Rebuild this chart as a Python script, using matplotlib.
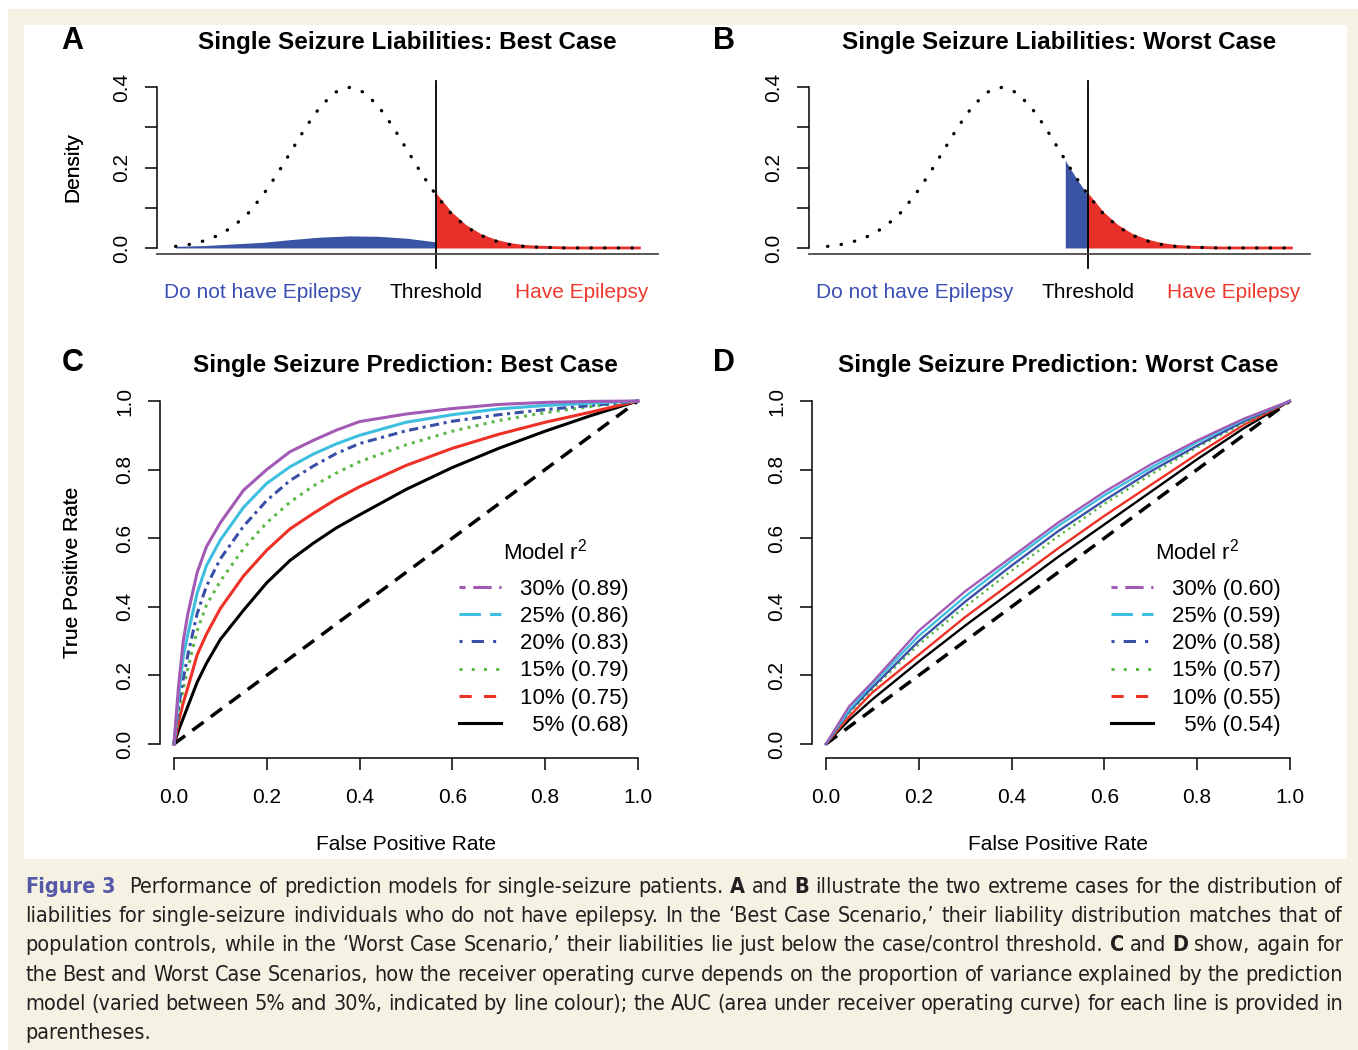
import matplotlib
matplotlib.use("Agg")
import matplotlib.pyplot as plt
from matplotlib.patches import Rectangle
from matplotlib.lines import Line2D
from matplotlib import font_manager
from matplotlib.font_manager import FontProperties

plt.rcParams['font.family'] = ['Liberation Sans', 'DejaVu Sans']
plt.rcParams['mathtext.fontset'] = 'custom'
plt.rcParams['mathtext.rm'] = 'Liberation Sans'
plt.rcParams['mathtext.it'] = 'Liberation Sans:italic'

W, H = 1358, 1050

# ---------------- panels A / B : liabilities ----------------
threshold = 1.5
liab_x = [-3.0, -2.75, -2.5, -2.25, -2.0, -1.75, -1.5, -1.25, -1.0, -0.75, -0.5, -0.25, 0.0,
          0.25, 0.5, 0.75, 1.0, 1.25, 1.5, 1.75, 2.0, 2.25, 2.5, 2.75, 3.0, 3.25, 3.5, 3.75,
          4.0, 4.25, 4.5, 4.75, 5.0]
liab_dens = [0.004, 0.009, 0.018, 0.032, 0.054, 0.086, 0.130, 0.183, 0.242, 0.301, 0.352, 0.387, 0.399,
             0.387, 0.352, 0.301, 0.242, 0.183, 0.130, 0.086, 0.054, 0.032, 0.018, 0.009, 0.004, 0.002,
             0.001, 0.0, 0.0, 0.0, 0.0, 0.0, 0.0]
# people with epilepsy (above threshold)
epi_x = [1.5, 1.75, 2.0, 2.25, 2.5, 2.75, 3.0, 3.25, 3.5, 3.75, 4.0, 4.25, 4.5, 4.75, 5.0]
epi_y = [0.130, 0.086, 0.054, 0.032, 0.018, 0.009, 0.004, 0.002, 0.001, 0.0, 0.0, 0.0, 0.0, 0.0, 0.0]
# single seizure, no epilepsy
best_x = [-3.0, -2.5, -2.0, -1.5, -1.0, -0.5, 0.0, 0.5, 1.0, 1.5]
best_y = [0.004, 0.006, 0.010, 0.014, 0.021, 0.027, 0.030, 0.029, 0.024, 0.015]
worst_x = [1.1, 1.2, 1.3, 1.4, 1.5]
worst_y = [0.218, 0.194, 0.171, 0.150, 0.130]

# ---------------- panels C / D : ROC ----------------
r2_labels = ['30%', '25%', '20%', '15%', '10%', '5%']
auc_best = ['0.89', '0.86', '0.83', '0.79', '0.75', '0.68']
auc_worst = ['0.60', '0.59', '0.58', '0.57', '0.55', '0.54']
diag = [0.0, 1.0]

fpr_best = [0, 0.01, 0.02, 0.03, 0.05, 0.07, 0.1, 0.15, 0.2, 0.25, 0.3, 0.35, 0.4, 0.5, 0.6, 0.7, 0.8, 0.9, 1.0]
tpr_best_30 = [0, 0.17, 0.30, 0.38, 0.50, 0.575, 0.645, 0.74, 0.80, 0.852, 0.885, 0.915, 0.94, 0.962, 0.978, 0.99, 0.996, 0.999, 1.0]
tpr_best_25 = [0, 0.14, 0.255, 0.32, 0.44, 0.52, 0.595, 0.69, 0.76, 0.808, 0.845, 0.875, 0.90, 0.938, 0.96, 0.977, 0.987, 0.994, 1.0]
tpr_best_20 = [0, 0.11, 0.19, 0.26, 0.38, 0.46, 0.54, 0.635, 0.71, 0.768, 0.81, 0.847, 0.876, 0.913, 0.941, 0.96, 0.975, 0.987, 1.0]
tpr_best_15 = [0, 0.09, 0.16, 0.22, 0.33, 0.405, 0.475, 0.57, 0.645, 0.705, 0.752, 0.79, 0.823, 0.872, 0.912, 0.943, 0.966, 0.984, 1.0]
tpr_best_10 = [0, 0.065, 0.12, 0.165, 0.26, 0.32, 0.395, 0.49, 0.565, 0.627, 0.672, 0.714, 0.75, 0.812, 0.862, 0.903, 0.938, 0.968, 1.0]
tpr_best_5 = [0, 0.04, 0.075, 0.11, 0.18, 0.235, 0.305, 0.39, 0.47, 0.535, 0.585, 0.63, 0.668, 0.742, 0.806, 0.862, 0.912, 0.958, 1.0]

fpr_worst = [0, 0.05, 0.1, 0.2, 0.3, 0.4, 0.5, 0.6, 0.7, 0.8, 0.9, 1.0]
tpr_worst_30 = [0, 0.11, 0.18, 0.33, 0.445, 0.545, 0.645, 0.735, 0.815, 0.885, 0.948, 1.0]
tpr_worst_25 = [0, 0.10, 0.175, 0.315, 0.43, 0.535, 0.635, 0.725, 0.805, 0.88, 0.945, 1.0]
tpr_worst_20 = [0, 0.095, 0.165, 0.30, 0.415, 0.52, 0.62, 0.71, 0.795, 0.87, 0.94, 1.0]
tpr_worst_15 = [0, 0.09, 0.16, 0.29, 0.40, 0.505, 0.605, 0.70, 0.785, 0.865, 0.935, 1.0]
tpr_worst_10 = [0, 0.08, 0.15, 0.26, 0.37, 0.47, 0.57, 0.665, 0.755, 0.845, 0.93, 1.0]
tpr_worst_5 = [0, 0.07, 0.13, 0.24, 0.345, 0.445, 0.545, 0.64, 0.735, 0.83, 0.92, 1.0]

roc_colors = ['#a25ab5', '#3ebfdf', '#3a50a6', '#5cb947', '#ee3127', '#000000']
legend_styles = [(0, (2, 2.5, 6, 2.5)), (0, (7, 3)), (0, (1, 3, 4, 3)), (0, (1, 3)), (0, (4, 4)), '-']

blue_fill = '#3a54a5'
red_fill = '#e8302a'
cream = '#f5f1e3'

caption_lines = [
    "#Figure #3 Performance of prediction models for single-seizure patients. *A and *B illustrate the two extreme cases for the distribution of",
    "liabilities for single-seizure individuals who do not have epilepsy. In the \u2018Best Case Scenario,\u2019 their liability distribution matches that of",
    "population controls, while in the \u2018Worst Case Scenario,\u2019 their liabilities lie just below the case/control threshold. *C and *D show, again for",
    "the Best and Worst Case Scenarios, how the receiver operating curve depends on the proportion of variance explained by the prediction",
    "model (varied between 5% and 30%, indicated by line colour); the AUC (area under receiver operating curve) for each line is provided in",
    "parentheses.",
]
caption_baselines = [893, 922, 951, 981, 1010, 1039]


def fx(px):
    return px / W


def fy(py):
    return 1 - py / H


def narrow_fonts():
    # look for an installed narrow / condensed sans for the caption
    reg, bold = None, None
    for pref in ['Liberation Sans Narrow', 'DejaVu Sans']:
        for f in font_manager.fontManager.ttflist:
            fn = f.fname.lower()
            if f.name != pref:
                continue
            if pref == 'DejaVu Sans' and 'condensed' not in fn:
                continue
            if 'oblique' in fn or 'italic' in fn or f.style != 'normal':
                continue
            w = f.weight if isinstance(f.weight, int) else (700 if 'bold' in str(f.weight) else 400)
            if w >= 600 and bold is None:
                bold = f.fname
            if w < 600 and reg is None:
                reg = f.fname
        if reg is not None:
            break
    return reg, bold


fig = plt.figure(figsize=(13.58, 10.5), dpi=100)
fig.patch.set_facecolor('white')
fig.add_artist(Rectangle((fx(8), 0), fx(W - 8), fy(9), transform=fig.transFigure,
                         facecolor=cream, edgecolor='none', zorder=-3))
fig.add_artist(Rectangle((fx(24), fy(859)), fx(1347 - 24), (859 - 25) / H, transform=fig.transFigure,
                         facecolor='white', edgecolor='none', zorder=-2))


def density_panel(left, letter, title, fill_x, fill_y):
    ax = fig.add_axes([fx(left), fy(254.4), 501 / W, 173.8 / H])
    ax.set_xlim(-3.32, 5.32)
    ax.set_ylim(-0.016, 0.416)
    ax.fill_between(fill_x, 0, fill_y, color=blue_fill, lw=0)
    ax.fill_between(epi_x, 0, epi_y, color=red_fill, lw=0)
    ax.plot(epi_x, epi_y, color=red_fill, lw=2)
    ax.plot(liab_x, liab_dens, color='black', lw=2.4, linestyle=(0, (0.1, 4.0)),
            dash_capstyle='round')
    ax.axvline(threshold, ymin=-0.078, ymax=1.0, color='black', lw=1.3, clip_on=False)

    for s in ['top', 'right']:
        ax.spines[s].set_visible(False)
    ax.spines['left'].set_bounds(0, 0.4)
    ax.spines['left'].set_linewidth(1.1)
    ax.spines['bottom'].set_color('#4a4a4a')
    ax.spines['bottom'].set_linewidth(1.3)
    ax.set_xticks([])
    ax.set_yticks([0, 0.1, 0.2, 0.3, 0.4])
    ax.set_yticklabels(['0.0', '', '0.2', '', '0.4'], rotation=90, va='center')
    ax.tick_params(axis='y', length=8.5, width=1.1, labelsize=15, pad=10)

    ax.text((73 - left) / 501, 0.5, 'Density', transform=ax.transAxes, rotation=90,
            ha='center', va='center', fontsize=15)
    ax.text(0.5, 1.22, title, transform=ax.transAxes, ha='center', va='center',
            fontsize=17.5, weight='bold')
    fig.text(fx(left - 85), fy(41), letter, ha='center', va='center', fontsize=22, weight='bold')

    lab_y = -(292 - 254.4) / 173.8
    tr = ax.get_xaxis_transform()
    ax.text(-1.5, lab_y, 'Do not have Epilepsy', transform=tr, ha='center', va='center',
            fontsize=15, color='#3b4fb3')
    ax.text(threshold, lab_y, 'Threshold', transform=tr, ha='center', va='center', fontsize=15)
    ax.text(4.0, lab_y, 'Have Epilepsy', transform=tr, ha='center', va='center',
            fontsize=15, color='#ee3a2e')
    return ax


def roc_panel(left, letter, title, fpr, tprs, aucs, plot_styles, lw):
    ax = fig.add_axes([fx(left), fy(757.7), 501 / W, 370.4 / H])
    ax.set_xlim(-0.04, 1.04)
    ax.set_ylim(-0.04, 1.04)
    ax.plot(diag, diag, color='black', lw=2.5, linestyle=(0, (4, 2.6)))
    for tpr, col, ls in list(zip(tprs, roc_colors, plot_styles))[::-1]:
        ax.plot(fpr, tpr, color=col, lw=lw, linestyle=ls)

    for s in ['top', 'right']:
        ax.spines[s].set_visible(False)
    ax.spines['left'].set_position(('data', -0.03))
    ax.spines['left'].set_bounds(0, 1)
    ax.spines['bottom'].set_bounds(0, 1)
    ax.spines['left'].set_linewidth(1.1)
    ax.spines['bottom'].set_linewidth(1.1)
    ticks = [0, 0.2, 0.4, 0.6, 0.8, 1.0]
    tick_labels = ['0.0', '0.2', '0.4', '0.6', '0.8', '1.0']
    ax.set_xticks(ticks)
    ax.set_xticklabels(tick_labels)
    ax.set_yticks(ticks)
    ax.set_yticklabels(tick_labels, rotation=90, va='center')
    ax.tick_params(axis='y', length=8.5, width=1.1, labelsize=15, pad=10)
    ax.tick_params(axis='x', length=8.5, width=1.1, labelsize=15, pad=13)

    ax.text((73 - left) / 501, 0.5, 'True Positive Rate', transform=ax.transAxes, rotation=90,
            ha='center', va='center', fontsize=15)
    ax.text(0.5, -(845 - 757.7) / 370.4, 'False Positive Rate', transform=ax.transAxes,
            ha='center', va='center', fontsize=15)
    ax.text(0.5, 1.06, title, transform=ax.transAxes, ha='center', va='center',
            fontsize=17.5, weight='bold')
    fig.text(fx(left - 83), fy(363), letter, ha='center', va='center', fontsize=22, weight='bold')

    handles = [Line2D([], [], color=c, lw=2.2, linestyle=ls) for c, ls in zip(roc_colors, legend_styles)]
    labels = []
    for r, a in zip(r2_labels, aucs):
        pad = '  ' if len(r) == 2 else ''
        labels.append(pad + r + ' (' + a + ')')
    ax.legend(handles, labels, loc='upper right', bbox_to_anchor=(0.98, 0.482),
              bbox_transform=ax.transData, frameon=False, fontsize=16,
              handlelength=1.9, handletextpad=0.85, labelspacing=0.28,
              borderpad=0, borderaxespad=0)
    ax.text(0.80, 0.56, 'Model r$^2$', ha='center', va='center', fontsize=16)
    return ax


density_panel(157, 'A', 'Single Seizure Liabilities: Best Case', best_x, best_y)
density_panel(809, 'B', 'Single Seizure Liabilities: Worst Case', worst_x, worst_y)

best_tprs = [tpr_best_30, tpr_best_25, tpr_best_20, tpr_best_15, tpr_best_10, tpr_best_5]
worst_tprs = [tpr_worst_30, tpr_worst_25, tpr_worst_20, tpr_worst_15, tpr_worst_10, tpr_worst_5]
best_styles = ['-', '-', (0, (3, 1.5, 1, 1.5)), (0, (1, 1.7)), '-', '-']
worst_styles = ['-', '-', '-', (0, (1, 1.7)), '-', '-']
roc_panel(155.4, 'C', 'Single Seizure Prediction: Best Case', fpr_best, best_tprs, auc_best, best_styles, 2.2)
roc_panel(807.4, 'D', 'Single Seizure Prediction: Worst Case', fpr_worst, worst_tprs, auc_worst, worst_styles, 1.7)

# ---------------- caption (justified) ----------------
reg_file, bold_file = narrow_fonts()
if reg_file is not None:
    cap_size = 15.5
    fp_reg = FontProperties(fname=reg_file, size=cap_size)
    fp_bold = FontProperties(fname=bold_file if bold_file else reg_file, size=cap_size)
else:
    cap_size = 14
    fp_reg = FontProperties(family='Liberation Sans', size=cap_size)
    fp_bold = FontProperties(family='Liberation Sans', weight='bold', size=cap_size)

renderer = fig.canvas.get_renderer()
x_left, x_right = 25, 1343
for i, line in enumerate(caption_lines):
    words = line.split(' ')
    texts = []
    extra = []
    for w in words:
        fp, col, gap_extra = fp_reg, '#231f20', 0
        if w.startswith('#'):
            w = w[1:]
            fp, col = fp_bold, '#5658a8'
            if w == '3':
                gap_extra = 8
        elif w.startswith('*'):
            w = w[1:]
            fp = fp_bold
        texts.append(fig.text(0, fy(caption_baselines[i]), w, ha='left', va='baseline',
                              fontproperties=fp, color=col))
        extra.append(gap_extra)
    widths = [t.get_window_extent(renderer).width for t in texts]
    if i < len(caption_lines) - 1 and len(texts) > 1:
        gap = (x_right - x_left - sum(widths) - sum(extra)) / (len(texts) - 1)
    else:
        gap = 5
    x = x_left
    for t, w_, e in zip(texts, widths, extra):
        t.set_x(fx(x))
        x += w_ + gap + e

fig.savefig('out.png', dpi=100, facecolor=fig.get_facecolor())
